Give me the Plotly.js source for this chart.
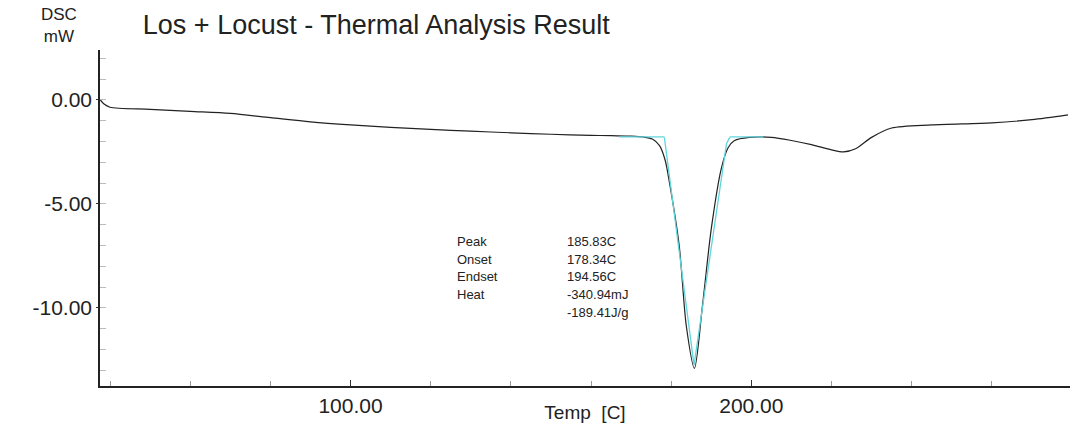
<!DOCTYPE html>
<html>
<head>
<script src="https://cdn.plot.ly/plotly-3.0.1.min.js"></script>
<style>body{margin:0;background:#fff}#plot{width:1074px;height:423px}</style>
</head>
<body>
<div id="plot"></div>
<script>
var temp = [37.6,38.5,40,50,60,70,80,90,100,110,120,130,140,150,160,165,170,173,175.3,177.1,178.5,179.6,182,183.8,185.8,187.8,190,192.5,194.2,195.8,199.5,205,210,215,220,223,226,230,235,245,260,270,279];
var dsc = [0,-0.2,-0.35,-0.45,-0.55,-0.65,-0.85,-1.05,-1.2,-1.32,-1.42,-1.5,-1.58,-1.65,-1.7,-1.72,-1.74,-1.78,-1.88,-2.2,-2.9,-4.0,-7.0,-10.9,-12.9,-9.9,-6.2,-3.3,-2.3,-1.95,-1.8,-1.8,-1.95,-2.15,-2.4,-2.5,-2.35,-1.8,-1.35,-1.2,-1.1,-0.95,-0.72];
var baseX = [167,178.3,178.3,null,194.6,194.6,203];
var baseY = [-1.78,-1.78,-1.78,null,-1.78,-1.78,-1.78];
var tanX = [178.3,178.5,185.7,193.8,194.6];
var tanY = [-1.8,-2.1,-12.75,-2.1,-1.8];
var labels = ["Peak","Onset","Endset","Heat",""];
var values = ["185.83C","178.34C","194.56C","-340.94mJ","-189.41J/g"];
var labelY = [-6.8,-7.65,-8.5,-9.35,-10.2];

var data = [
  {x:temp,y:dsc,mode:"lines",type:"scatter",line:{color:"#222",width:1.2,shape:"spline",smoothing:0.8}},
  {x:baseX,y:baseY,mode:"lines",type:"scatter",line:{color:"#5ed6dc",width:1.3}},
  {x:tanX,y:tanY,mode:"lines",type:"scatter",line:{color:"#5ed6dc",width:1.3}}
];
var ann = [];
for (var i=0; i<labels.length; i++) {
  ann.push({x:126,y:labelY[i],xref:"x",yref:"y",text:labels[i],showarrow:false,xanchor:"left",font:{size:13,color:"#222"}});
  ann.push({x:153.5,y:labelY[i],xref:"x",yref:"y",text:values[i],showarrow:false,xanchor:"left",font:{size:13,color:"#222"}});
}
ann.push({xref:"paper",yref:"paper",x:-0.042,y:1.005,xanchor:"center",yanchor:"bottom",text:"DSC<br>mW",showarrow:false,font:{size:17,color:"#222"}});
var layout = {
  margin:{l:100,r:4,t:50,b:37},
  showlegend:false,
  paper_bgcolor:"#fff",plot_bgcolor:"#fff",
  font:{family:"Liberation Sans, Arial",color:"#222"},
  title:{text:"Los + Locust - Thermal Analysis Result",x:0.133,xanchor:"left",y:0.965,yanchor:"top",font:{size:27,color:"#222"}},
  xaxis:{range:[37.5,279.5],showgrid:false,zeroline:false,showline:true,linecolor:"#222",linewidth:1.5,
    tickvals:[100,200],ticktext:["100.00","200.00"],ticks:"inside",ticklen:6,tickcolor:"#333",
    minor:{dtick:20,tick0:0,ticks:"inside",ticklen:5,tickcolor:"#999"},
    tickfont:{size:21},title:{text:"Temp  [C]",font:{size:19},standoff:0}},
  yaxis:{range:[-13.75,2.4],showgrid:false,zeroline:false,showline:true,linecolor:"#222",linewidth:1.5,
    tickvals:[0,-5,-10],ticktext:["0.00","-5.00","-10.00"],ticks:"outside",ticklen:2,tickcolor:"#333",
    minor:{dtick:1,tick0:0,ticks:"inside",ticklen:6,tickcolor:"#bbb"},
    tickfont:{size:21}},
  annotations:ann
};
Plotly.newPlot("plot",data,layout,{displayModeBar:false});
</script>
</body>
</html>
